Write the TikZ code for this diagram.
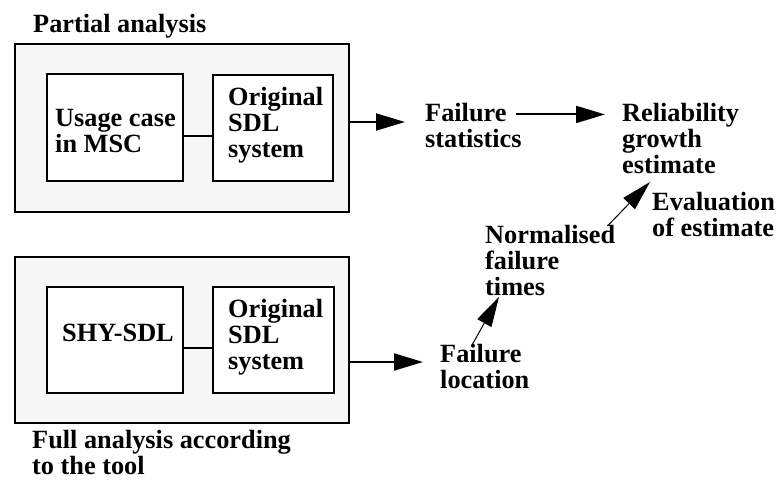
\documentclass[tikz,border=0pt]{standalone}
\usepackage{fontspec}
\setmainfont{Liberation Serif}[BoldFont={Liberation Serif Bold}]
\usetikzlibrary{arrows.meta,calc}
\definecolor{panel}{HTML}{F7F7F7}
\tikzset{
  txt/.style={font=\fontsize{26.3}{26}\selectfont\bfseries, align=left, inner sep=0pt, anchor=north west},
  outerbox/.style={draw, line width=2.2pt, fill=panel, inner sep=0pt, outer sep=0pt},
  innerbox/.style={draw, line width=2pt, fill=white, inner sep=0pt, outer sep=0pt},
  link/.style={line width=1.3pt},
  arr/.style={line width=2pt, -{Triangle[length=29pt,width=17pt]}},
  thinarr/.style={line width=1pt, -{Triangle[length=30pt,width=16pt]}},
}
\begin{document}
\begin{tikzpicture}[x=1pt,y=-1pt]
\useasboundingbox (0,0) rectangle (776,485);
% panels
\node[outerbox, minimum width=334pt, minimum height=168pt] (p) at (182,128) {};
\node[innerbox, minimum width=136pt, minimum height=107pt] (b1) at (115,127.5) {};
\node[innerbox, minimum width=120pt, minimum height=106pt] (b2) at (273,128) {};
\node[outerbox, minimum width=334pt, minimum height=166pt] (q) at (182,340) {};
\node[innerbox, minimum width=136pt, minimum height=106pt] (b3) at (115,340) {};
\node[innerbox, minimum width=121pt, minimum height=106pt] (b4) at (273.5,340) {};
% texts
\node[txt] (pa) at (33,14) {Partial analysis};
\node[txt] (uc) at (55,109) {Usage case\\in MSC};
\node[txt] (o1) at (228,87) {Original\\SDL\\system};
\node[txt] (sh) at (62,324) {SHY-SDL};
\node[txt] (o2) at (228,299) {Original\\SDL\\system};
\node[txt] (fa) at (32,430) {Full analysis according\\to the tool};
\node[txt] (fs) at (425,103) {Failure\\statistics};
\node[txt] (rel) at (622,103) {Reliability\\growth\\estimate};
\node[txt] (ev) at (652,192) {Evaluation\\of estimate};
\node[txt] (nf) at (485,225) {Normalised\\failure\\times};
\node[txt] (fl) at (440,344) {Failure\\location};
% links
\draw[link] ([yshift=-8.5pt]b1.east) -- ([yshift=-8.5pt]b1.east -| b2.west);
\draw[link] ([yshift=-8pt]b3.east) -- ([yshift=-8pt]b3.east -| b4.west);
% arrows
\draw[arr, shorten >=20pt] ([yshift=6pt]p.east) -- ([yshift=6pt]p.east -| fs.west);
\draw[arr, shorten >=17pt] ($(fs.east)+(-6,-11)$) -- ($(fs.east -| rel.west)+(0,-11)$);
\draw[arr, shorten >=17pt] ([yshift=-22pt]q.east) -- ([yshift=-22pt]q.east -| fl.west);
\draw[thinarr] ($(nf.north east)+(-8,1)$) -- ($(ev.north west)+(-2,-10)$);
\draw[thinarr] ($(fl.north west)+(32,1)$) -- ($(nf.south west)+(14,1)$);
\end{tikzpicture}
\end{document}
